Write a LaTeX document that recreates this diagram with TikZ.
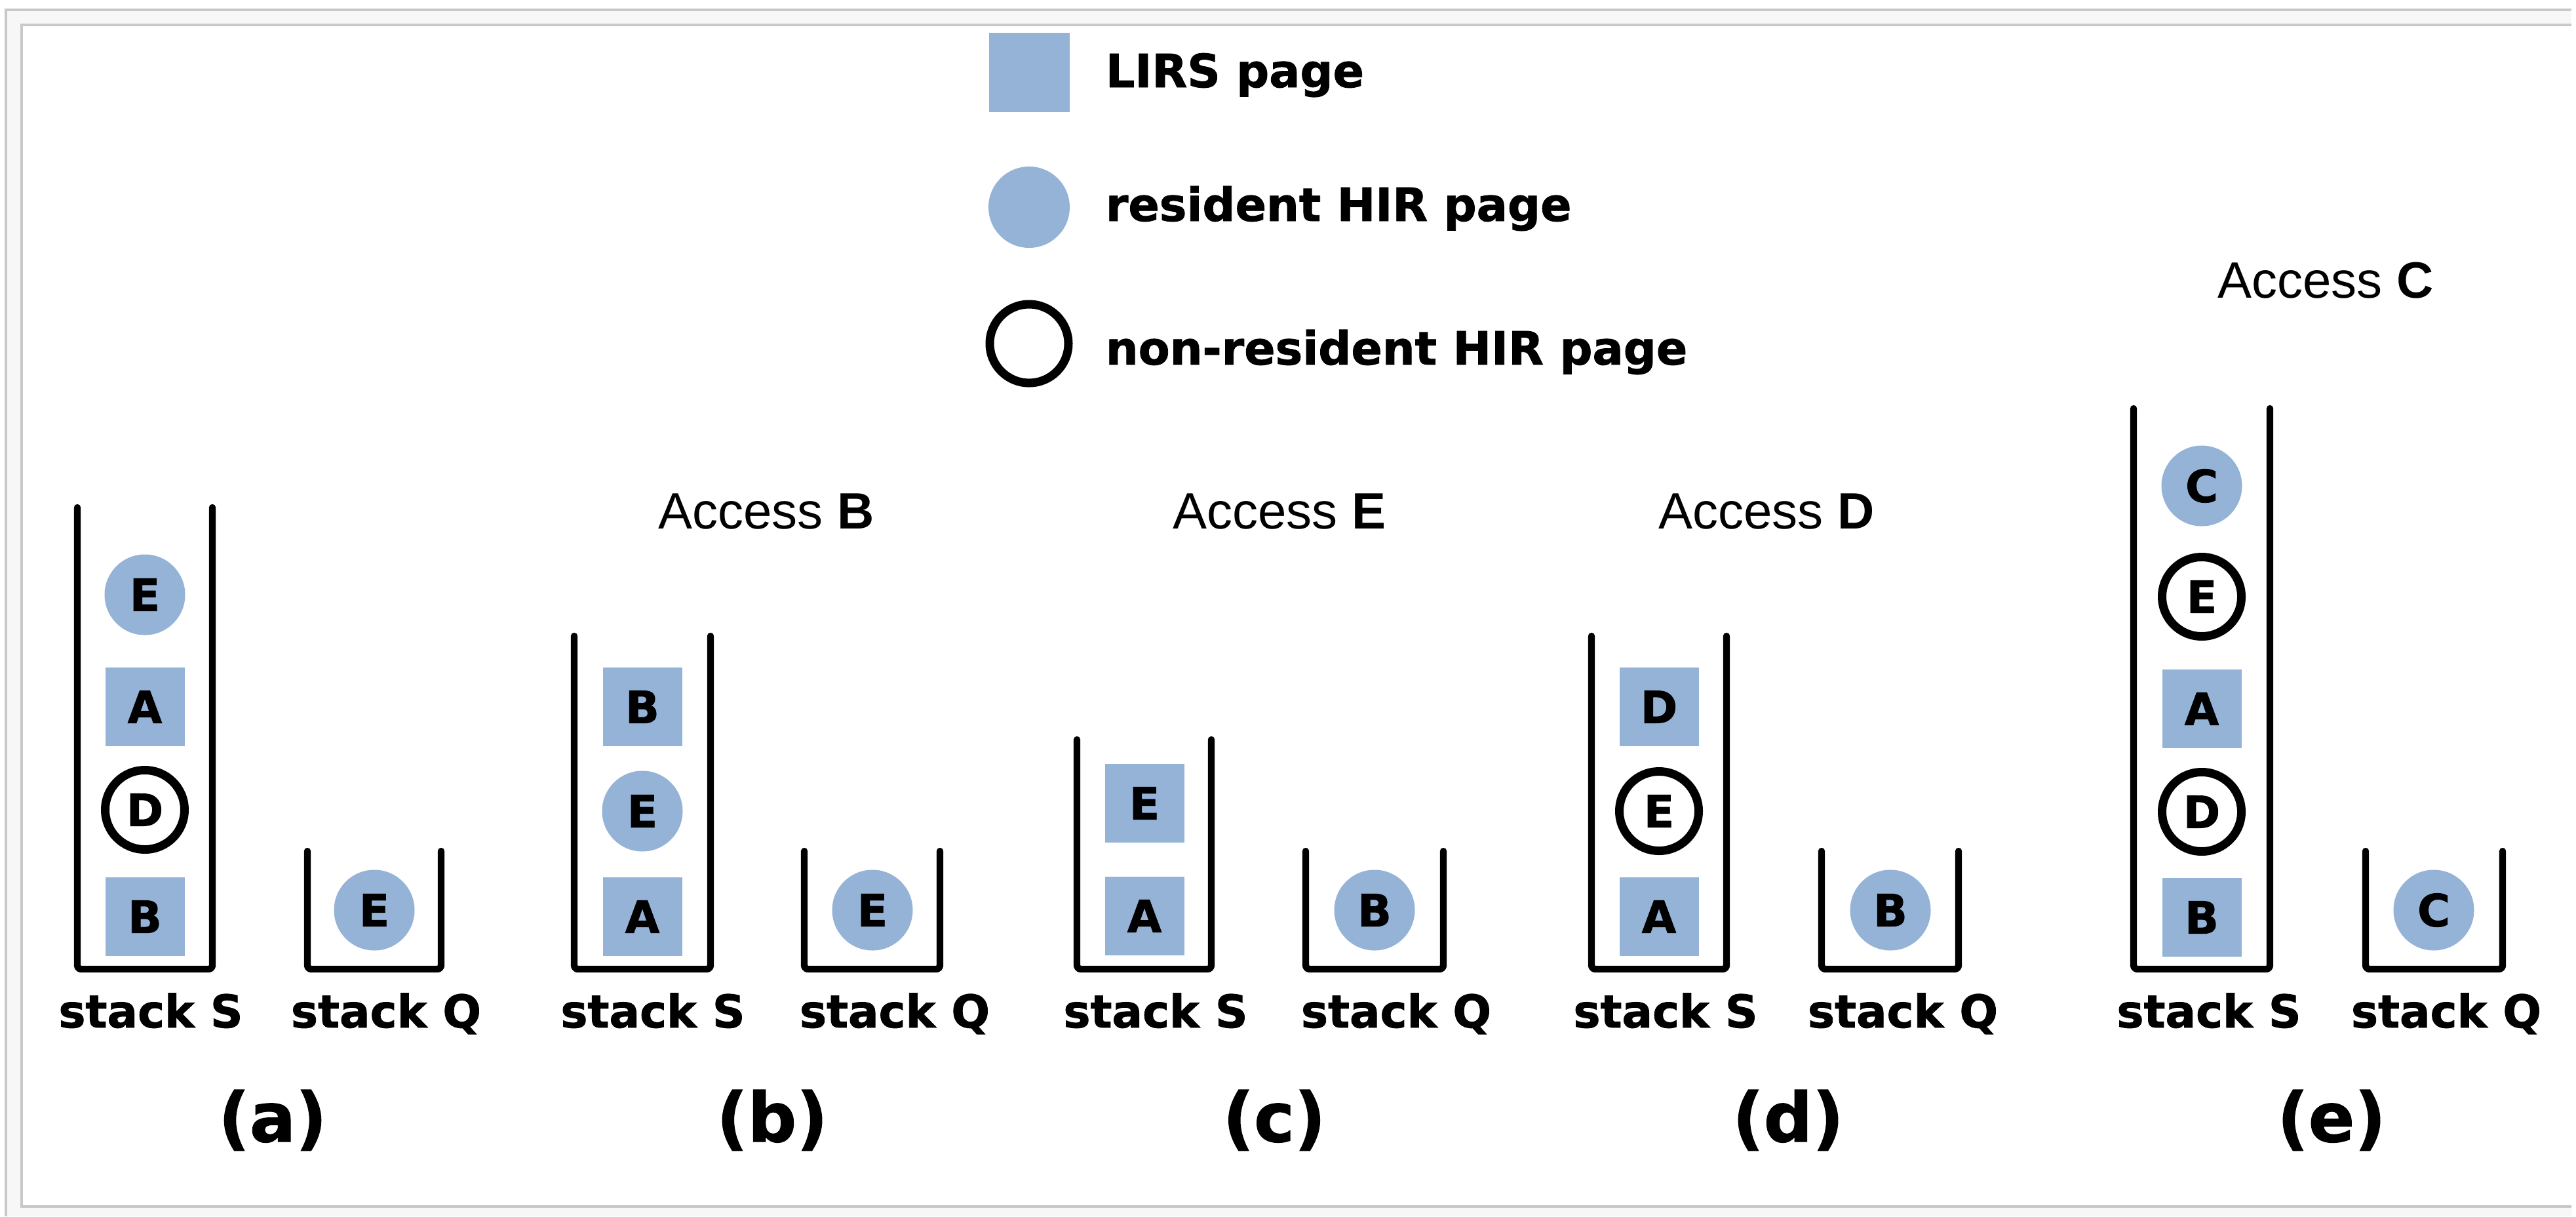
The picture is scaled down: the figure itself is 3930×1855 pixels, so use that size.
\documentclass[tikz,border=0pt]{standalone}
\usepackage{fontspec}
\setmainfont{Liberation Sans}
\newfontfamily\heavy{DejaVu Sans Bold}[FakeBold=1.2]
\definecolor{pageblue}{RGB}{149,179,215}
\definecolor{framegray}{RGB}{200,200,200}
\definecolor{framefill}{RGB}{247,247,247}
\newcommand\itemfont{\heavy\fontsize{17pt}{18pt}\selectfont}
\newcommand\labfont{\heavy\fontsize{17.25pt}{19pt}\selectfont}
\newcommand\legfont{\heavy\fontsize{17.5pt}{20pt}\selectfont}
\newcommand\capfont{\heavy\fontsize{26pt}{30pt}\selectfont}
\newcommand\accfont{\fontsize{19.5pt}{22pt}\selectfont}
\tikzset{
  lirs/.style={rectangle, fill=pageblue, minimum width=30.25pt, minimum height=30pt, inner sep=0pt, font=\itemfont},
  res/.style={circle, fill=pageblue, minimum size=30.75pt, inner sep=0pt, font=\itemfont},
  nonres/.style={circle, draw=black, fill=white, line width=3.25pt, minimum size=30.25pt, inner sep=0pt, font=\itemfont},
  wall/.style={draw=black, line width=2.6pt, line cap=round, line join=round, rounded corners=1.5pt},
  stacklabel/.style={anchor=base, inner sep=0pt, font=\labfont},
  caplabel/.style={anchor=base, inner sep=0pt, font=\capfont},
  acclabel/.style={anchor=base, inner sep=0pt, font=\accfont},
  legtext/.style={anchor=base west, inner sep=0pt, font=\legfont},
  frameline/.style={draw=framegray, line width=1pt}
}
\begin{document}
\begin{tikzpicture}[x=0.25pt,y=-0.25pt]
\useasboundingbox (0,0) rectangle (3930,1855);
% frame
\fill[framefill] (9,15) rectangle (3923,1855);
\fill[white] (33,38) rectangle (3923,1840);
\draw[frameline] (9,1855) -- (9,15) -- (3923,15);
\draw[frameline] (3923,38) -- (33,38) -- (33,1840) -- (3923,1840);

% legend
\node[lirs, minimum width=30.75pt, minimum height=30.25pt] (legL) at (1570,110) {};
\node[res, minimum size=31pt] (legR) at (1570,316) {};
\node[nonres, minimum size=30pt] (legN) at (1570,524) {};
\node[legtext] (legLt) at (1686,133) {LIRS page};
\node[legtext] (legRt) at (1686,337) {resident HIR page};
\node[legtext] (legNt) at (1686,556) {non-resident HIR page};

% ---------- (a)
\draw[wall] (118,774) -- (118,1478) -- (324,1478) -- (324,774);
\draw[wall] (469,1298) -- (469,1478) -- (673,1478) -- (673,1298);
\node[res] (aE) at (221,907) {E};
\node[lirs] (aA) at (221,1078) {A};
\node[nonres] (aD) at (221,1235) {D};
\node[lirs] (aB) at (221,1398) {B};
\node[res] (aQE) at (571,1388) {E};
\node[stacklabel] (aS) at (230,1567) {stack S};
\node[stacklabel] (aQ) at (589,1567) {stack Q};
\node[caplabel] (acap) at (416,1741) {(a)};

% ---------- (b)
\node[acclabel] (bacc) at (1169,806) {Access \textbf{B}};
\draw[wall] (876,970) -- (876,1478) -- (1084,1478) -- (1084,970);
\draw[wall] (1227,1298) -- (1227,1478) -- (1434,1478) -- (1434,1298);
\node[lirs] (bB) at (980,1078) {B};
\node[res] (bE) at (980,1237) {E};
\node[lirs] (bA) at (980,1398) {A};
\node[res] (bQE) at (1331,1388) {E};
\node[stacklabel] (bS) at (996,1567) {stack S};
\node[stacklabel] (bQ) at (1365,1567) {stack Q};
\node[caplabel] (bcap) at (1178,1741) {(b)};

% ---------- (c)
\node[acclabel] (cacc) at (1952,806) {Access \textbf{E}};
\draw[wall] (1643,1128) -- (1643,1478) -- (1848,1478) -- (1848,1128);
\draw[wall] (1992,1298) -- (1992,1478) -- (2202,1478) -- (2202,1298);
\node[lirs] (cE) at (1746,1225) {E};
\node[lirs] (cA) at (1746,1397) {A};
\node[res] (cQB) at (2097,1388) {B};
\node[stacklabel] (cS) at (1763,1567) {stack S};
\node[stacklabel] (cQ) at (2130,1567) {stack Q};
\node[caplabel] (ccap) at (1944,1741) {(c)};

% ---------- (d)
\node[acclabel] (dacc) at (2695,806) {Access \textbf{D}};
\draw[wall] (2428,970) -- (2428,1478) -- (2634,1478) -- (2634,970);
\draw[wall] (2779,1298) -- (2779,1478) -- (2988,1478) -- (2988,1298);
\node[lirs] (dD) at (2531,1078) {D};
\node[nonres] (dE) at (2531,1237) {E};
\node[lirs] (dA) at (2531,1398) {A};
\node[res] (dQB) at (2884,1388) {B};
\node[stacklabel] (dS) at (2541,1567) {stack S};
\node[stacklabel] (dQ) at (2903,1567) {stack Q};
\node[caplabel] (dcap) at (2728,1741) {(d)};

% ---------- (e)
\node[acclabel] (eacc) at (3548,454) {Access \textbf{C}};
\draw[wall] (3255,623) -- (3255,1478) -- (3463,1478) -- (3463,623);
\draw[wall] (3609,1298) -- (3609,1478) -- (3818,1478) -- (3818,1298);
\node[res] (eC) at (3359,741) {C};
\node[nonres] (eE) at (3359,910) {E};
\node[lirs] (eA) at (3359,1081) {A};
\node[nonres] (eD) at (3359,1238) {D};
\node[lirs] (eB) at (3359,1399) {B};
\node[res] (eQC) at (3713,1388) {C};
\node[stacklabel] (eS) at (3370,1567) {stack S};
\node[stacklabel] (eQ) at (3732,1567) {stack Q};
\node[caplabel] (ecap) at (3557,1741) {(e)};
\end{tikzpicture}
\end{document}
